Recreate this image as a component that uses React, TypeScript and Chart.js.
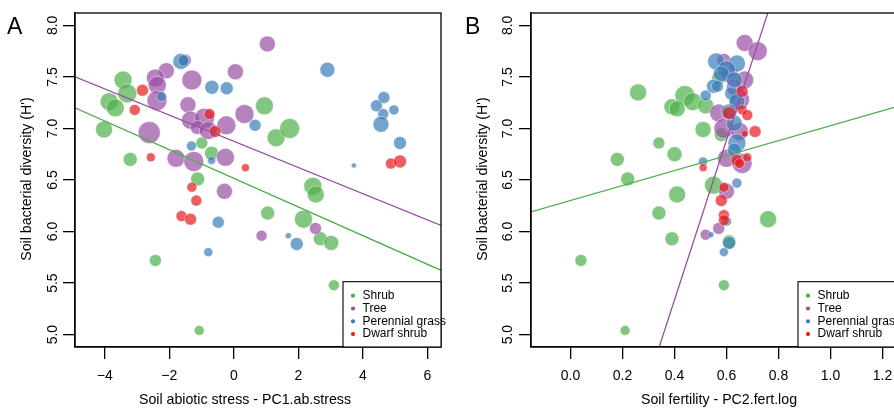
import React, { useEffect, useRef } from 'react';
import { Chart, registerables } from 'chart.js';

Chart.register(...registerables);

// ---------- data ----------
const groupLabels = ['Shrub', 'Tree', 'Perennial grass', 'Dwarf shrub'];
const groupColors = ['#4DAF4A', '#984EA3', '#377EB8', '#E41A1C'];

const yTicks = [5.0, 5.5, 6.0, 6.5, 7.0, 7.5, 8.0];
const xTicksA = [-4, -2, 0, 2, 4, 6];
const xTicksB = [0.0, 0.2, 0.4, 0.6, 0.8, 1.0, 1.2];

const yTitle = "Soil bacterial diversity (H')";
const xTitleA = 'Soil abiotic stress - PC1.ab.stress';
const xTitleB = 'Soil fertility - PC2.fert.log';

// Panel A : x = PC1.ab.stress
const shrubA_x = [-3.43, -3.30, -3.86, -3.67, -4.02, -3.21, -0.99, -0.69, -1.12, 0.95, 1.31, 1.73, 2.45, 2.54, 1.05, 2.16, 2.68, 3.02, -2.43, 3.10, -1.07];
const shrubA_y = [7.47, 7.34, 7.26, 7.20, 6.99, 6.70, 6.86, 6.76, 6.51, 7.22, 6.91, 7.00, 6.44, 6.36, 6.18, 6.12, 5.93, 5.89, 5.72, 5.48, 5.04];
const shrubA_size = [0.9, 0.95, 0.9, 0.9, 0.85, 0.7, 0.6, 0.7, 0.7, 0.9, 0.9, 1.0, 0.9, 0.85, 0.7, 0.9, 0.7, 0.75, 0.6, 0.55, 0.5];

const treeA_x = [-1.52, -2.09, -2.43, -2.37, -2.38, -1.30, 0.05, 1.04, -1.42, -1.34, -0.91, -1.13, -0.79, -0.23, 0.33, -2.62, -1.79, -1.24, -0.26, -0.29, 0.86, 2.53];
const treeA_y = [7.66, 7.56, 7.49, 7.42, 7.27, 7.47, 7.55, 7.82, 7.23, 7.08, 7.10, 7.01, 6.98, 7.03, 7.14, 6.96, 6.71, 6.68, 6.72, 6.39, 5.96, 6.03];
const treeA_size = [0.65, 0.8, 0.9, 0.9, 1.0, 1.0, 0.8, 0.8, 0.8, 0.9, 1.0, 0.7, 0.9, 0.95, 0.95, 1.1, 0.9, 1.0, 0.9, 0.8, 0.55, 0.6];

const grassA_x = [-1.64, -1.56, -0.68, -0.22, -2.24, 0.66, -1.31, -0.69, 2.90, 4.65, 4.42, 4.63, 4.96, 4.56, 5.15, 3.72, -0.48, -0.79, 1.69, 1.95];
const grassA_y = [7.65, 7.66, 7.40, 7.39, 7.31, 7.03, 6.83, 6.69, 7.57, 7.30, 7.22, 7.14, 7.18, 7.04, 6.86, 6.64, 6.09, 5.80, 5.96, 5.88];
const grassA_size = [0.8, 0.55, 0.7, 0.65, 0.5, 0.6, 0.5, 0.4, 0.75, 0.6, 0.6, 0.55, 0.5, 0.8, 0.65, 0.25, 0.6, 0.45, 0.3, 0.65];

const dwarfA_x = [-2.83, -3.07, -0.75, -0.58, -2.57, 0.36, 4.87, 5.15, -1.30, -1.16, -1.62, -1.34];
const dwarfA_y = [7.37, 7.18, 7.14, 6.97, 6.72, 6.62, 6.66, 6.68, 6.43, 6.30, 6.15, 6.12];
const dwarfA_size = [0.6, 0.55, 0.55, 0.6, 0.45, 0.4, 0.55, 0.65, 0.5, 0.55, 0.55, 0.6];

const shrubLineA = [{ x: -4.92, y: 7.20 }, { x: 6.42, y: 5.624 }];
const treeLineA = [{ x: -4.92, y: 7.50 }, { x: 6.42, y: 6.06 }];

// Panel B : x = PC2.fert.log
const shrubB_x = [0.26, 0.44, 0.47, 0.39, 0.41, 0.52, 0.51, 0.34, 0.40, 0.18, 0.22, 0.55, 0.41, 0.34, 0.76, 0.39, 0.61, 0.04, 0.59, 0.21, 0.57, 0.58];
const shrubB_y = [7.35, 7.32, 7.26, 7.21, 7.19, 7.22, 6.99, 6.86, 6.75, 6.70, 6.51, 6.45, 6.36, 6.18, 6.12, 5.93, 5.90, 5.72, 5.48, 5.04, 7.49, 6.94];
const shrubB_size = [0.85, 1.0, 0.9, 0.8, 0.8, 0.8, 0.8, 0.6, 0.75, 0.7, 0.7, 0.9, 0.85, 0.7, 0.85, 0.7, 0.7, 0.6, 0.55, 0.5, 0.7, 0.7];

const treeB_x = [0.67, 0.72, 0.59, 0.61, 0.67, 0.65, 0.57, 0.59, 0.65, 0.60, 0.66, 0.60, 0.57, 0.52, 0.63];
const treeB_y = [7.83, 7.75, 7.66, 7.53, 7.47, 7.28, 7.15, 7.00, 6.97, 6.71, 6.66, 6.39, 6.03, 5.97, 7.40];
const treeB_size = [0.85, 0.95, 0.7, 0.9, 0.9, 1.0, 0.9, 1.0, 0.9, 0.9, 1.0, 0.8, 0.6, 0.55, 0.8];

const grassB_x = [0.56, 0.64, 0.60, 0.58, 0.55, 0.52, 0.565, 0.62, 0.64, 0.63, 0.64, 0.63, 0.51, 0.64, 0.60, 0.54, 0.61, 0.59, 0.61, 0.63];
const grassB_y = [7.65, 7.63, 7.57, 7.53, 7.41, 7.32, 7.41, 7.34, 7.26, 7.05, 6.86, 6.79, 6.68, 6.47, 6.10, 5.97, 5.89, 5.80, 7.16, 7.47];
const grassB_size = [0.85, 0.85, 0.9, 0.8, 0.7, 0.55, 0.6, 0.7, 0.8, 0.8, 0.9, 0.7, 0.45, 0.5, 0.5, 0.3, 0.65, 0.45, 0.8, 0.8];

const dwarfB_x = [0.66, 0.61, 0.66, 0.68, 0.71, 0.67, 0.64, 0.65, 0.68, 0.51, 0.59, 0.58, 0.59, 0.59];
const dwarfB_y = [7.36, 7.15, 7.18, 7.13, 6.97, 6.95, 6.69, 6.66, 6.72, 6.62, 6.43, 6.30, 6.16, 6.11];
const dwarfB_size = [0.6, 0.65, 0.5, 0.55, 0.6, 0.35, 0.6, 0.5, 0.45, 0.4, 0.5, 0.6, 0.55, 0.55];

const shrubLineB = [{ x: -0.153, y: 6.19 }, { x: 1.252, y: 7.21 }];
const treeLineB = [{ x: 0.318, y: 4.70 }, { x: 0.782, y: 8.30 }];

// ---------- styling ----------
const FONT = '"Liberation Sans", Arial, Helvetica, sans-serif';
const RADIUS_PER_SIZE = 10;

function rgba(hex: string, a: number) {
  const n = parseInt(hex.slice(1), 16);
  return `rgba(${(n >> 16) & 255},${(n >> 8) & 255},${n & 255},${a})`;
}

function bubbleSet(i: number, xs: number[], ys: number[], ss: number[]) {
  return {
    type: 'bubble',
    label: groupLabels[i],
    order: 5 - i,
    data: xs.map((x, k) => ({ x, y: ys[k], r: ss[k] * RADIUS_PER_SIZE })),
    backgroundColor: rgba(groupColors[i], 0.7),
    borderColor: 'rgba(255,255,255,0.55)',
    borderWidth: 0.8,
  };
}

function lineSet(i: number, pts: { x: number; y: number }[]) {
  return {
    type: 'line',
    label: groupLabels[i] + ' fit',
    order: 0,
    data: pts,
    borderColor: groupColors[i],
    borderWidth: 1.3,
    pointRadius: 0,
    fill: false,
    tension: 0,
  };
}

const minus = (v: number) => (v < 0 ? '\u2212' + Math.abs(v) : String(v));

const panelA = {
  letter: 'A', letterX: 7,
  canvasWidth: 447, areaLeft: 75, padRight: 6,
  xMin: -4.92, xMax: 6.42, xTicks: xTicksA, xFmt: minus,
  xTitle: xTitleA, xTitleX: 245, yTitleX: 27.5, yTickPad: 0,
  datasets: [
    lineSet(1, treeLineA), lineSet(0, shrubLineA),
    bubbleSet(0, shrubA_x, shrubA_y, shrubA_size),
    bubbleSet(1, treeA_x, treeA_y, treeA_size),
    bubbleSet(2, grassA_x, grassA_y, grassA_size),
    bubbleSet(3, dwarfA_x, dwarfA_y, dwarfA_size),
  ],
};

const panelB = {
  letter: 'B', letterX: 18,
  canvasWidth: 462, areaLeft: 84, padRight: 13,
  xMin: -0.152, xMax: 1.252, xTicks: xTicksB, xFmt: (v: number) => v.toFixed(1),
  xTitle: xTitleB, xTitleX: 272, yTitleX: 36, yTickPad: 1.3,
  datasets: [
    lineSet(1, treeLineB), lineSet(0, shrubLineB),
    bubbleSet(0, shrubB_x, shrubB_y, shrubB_size),
    bubbleSet(1, treeB_x, treeB_y, treeB_size),
    bubbleSet(2, grassB_x, grassB_y, grassB_size),
    bubbleSet(3, dwarfB_x, dwarfB_y, dwarfB_size),
  ],
};

function makeDecor(spec: any) {
  return {
    id: 'decor' + spec.letter,
    afterDraw(chart: any) {
      const { ctx, chartArea: a } = chart;
      ctx.save();
      // box
      ctx.strokeStyle = '#000';
      ctx.lineWidth = 1.3;
      ctx.strokeRect(a.left, a.top, a.right - a.left, a.bottom - a.top);
      // legend
      const lw = 98, lh = 65.3;
      const lx = a.right - lw, ly = a.bottom - lh;
      ctx.fillStyle = '#fff';
      ctx.fillRect(lx, ly, lw, lh);
      ctx.lineWidth = 1.1;
      ctx.strokeRect(lx, ly, lw, lh);
      ctx.font = `12px ${FONT}`;
      ctx.textBaseline = 'middle';
      ctx.textAlign = 'left';
      groupLabels.forEach((g, i) => {
        const y = ly + 14 + i * 12.8;
        ctx.fillStyle = groupColors[i];
        ctx.beginPath();
        ctx.arc(lx + 10, y, 2.1, 0, Math.PI * 2);
        ctx.fill();
        ctx.fillStyle = '#000';
        ctx.fillText(g, lx + 19.5, y);
      });
      // axis titles
      ctx.font = `14.2px ${FONT}`;
      ctx.fillStyle = '#000';
      ctx.textAlign = 'center';
      ctx.textBaseline = 'middle';
      ctx.fillText(spec.xTitle, spec.xTitleX, 400);
      ctx.save();
      ctx.translate(spec.yTitleX, (a.top + a.bottom) / 2 - 1);
      ctx.rotate(-Math.PI / 2);
      ctx.fillText(yTitle, 0, 0);
      ctx.restore();
      // panel letter
      ctx.font = `23px ${FONT}`;
      ctx.textAlign = 'left';
      ctx.textBaseline = 'alphabetic';
      ctx.fillText(spec.letter, spec.letterX, 33.5);
      ctx.restore();
    },
  };
}

function buildConfig(spec: any): any {
  return {
    type: 'bubble',
    data: { datasets: spec.datasets },
    options: {
      responsive: false,
      animation: false,
      events: [],
      layout: { autoPadding: false, padding: { left: 0, top: 13, right: spec.padRight, bottom: 0 } },
      plugins: { legend: { display: false }, tooltip: { enabled: false } },
      scales: {
        x: {
          type: 'linear',
          position: 'bottom',
          min: spec.xMin,
          max: spec.xMax,
          afterBuildTicks: (s: any) => { s.ticks = spec.xTicks.map((v: number) => ({ value: v })); },
          afterFit: (s: any) => { s.height = 63; },
          ticks: {
            autoSkip: false, maxRotation: 0, minRotation: 0, padding: 8.6,
            color: '#000', font: { family: FONT, size: 14 },
            callback: (v: number) => spec.xFmt(v),
          },
          grid: { drawOnChartArea: false, drawTicks: true, tickLength: 12, color: '#000', lineWidth: 1.3 },
          border: { display: true, color: '#000', width: 1.3 },
          title: { display: false },
        },
        y: {
          type: 'linear',
          position: 'left',
          min: 4.88,
          max: 8.12,
          afterBuildTicks: (s: any) => { s.ticks = yTicks.map((v) => ({ value: v })); },
          afterFit: (s: any) => { s.width = spec.areaLeft; },
          ticks: {
            autoSkip: false, minRotation: 90, maxRotation: 90, crossAlign: 'center', padding: spec.yTickPad,
            color: '#000', font: { family: FONT, size: 14 },
            callback: (v: number) => v.toFixed(1),
          },
          grid: { drawOnChartArea: false, drawTicks: true, tickLength: 12, color: '#000', lineWidth: 1.3 },
          border: { display: true, color: '#000', width: 1.3 },
          title: { display: false },
        },
      },
    },
    plugins: [makeDecor(spec)],
  };
}

function Panel({ spec, left }: { spec: any; left: number }) {
  const ref = useRef<HTMLCanvasElement>(null);
  useEffect(() => {
    if (!ref.current) return;
    const chart = new Chart(ref.current, buildConfig(spec));
    return () => chart.destroy();
  }, [spec]);
  return (
    <canvas
      ref={ref}
      width={spec.canvasWidth}
      height={410}
      style={{ position: 'absolute', left, top: 0, width: spec.canvasWidth, height: 410 }}
    />
  );
}

export default function App() {
  return (
    <div style={{ position: 'fixed', left: 0, top: 0, width: 894, height: 410, overflow: 'hidden', background: '#fff' }}>
      <Panel spec={panelA} left={0} />
      <Panel spec={panelB} left={447} />
    </div>
  );
}
